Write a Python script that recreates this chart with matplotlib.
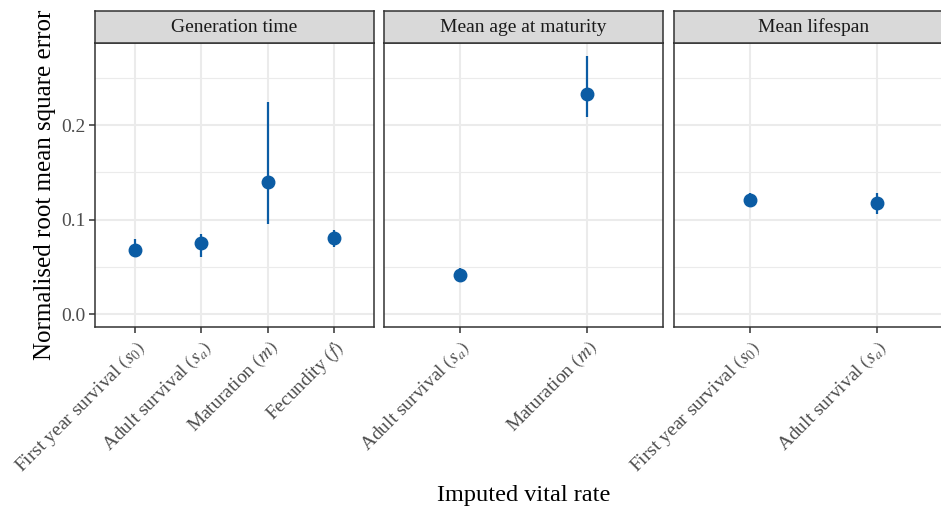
import numpy as np
import matplotlib
matplotlib.use("Agg")
import matplotlib.pyplot as plt

plt.rcParams['font.family'] = ['Liberation Serif', 'DejaVu Serif']
plt.rcParams['mathtext.fontset'] = 'stix'

# datos por panel (valor central, limite inferior, limite superior)
panel_titles = ['Generation time', 'Mean age at maturity', 'Mean lifespan']

gen_labels = [r'First year survival $\left(s_0\right)$', r'Adult survival $\left(s_a\right)$',
              r'Maturation $\left(m\right)$', r'Fecundity $\left(f\right)$']
gen_mid = [0.068, 0.075, 0.140, 0.080]
gen_low = [0.062, 0.060, 0.095, 0.071]
gen_high = [0.079, 0.085, 0.224, 0.089]

mat_labels = [r'Adult survival $\left(s_a\right)$', r'Maturation $\left(m\right)$']
mat_mid = [0.041, 0.233]
mat_low = [0.036, 0.209]
mat_high = [0.049, 0.273]

life_labels = [r'First year survival $\left(s_0\right)$', r'Adult survival $\left(s_a\right)$']
life_mid = [0.121, 0.118]
life_low = [0.115, 0.106]
life_high = [0.128, 0.128]

paneles = [
    (gen_labels, gen_mid, gen_low, gen_high),
    (mat_labels, mat_mid, mat_low, mat_high),
    (life_labels, life_mid, life_low, life_high),
]

W, H = 941, 508
fig = plt.figure(figsize=(W / 100, H / 100), dpi=100)

color_pt = '#0b5ca4'
borde = '#333333'
grid_c = '#ebebeb'
lefts = [95, 384, 674]
pw = 279
top, bottom = 43, 327
strip_top = 11

ymin, ymax = -0.0137, 0.2868

for i, (labels, mid, low, high) in enumerate(paneles):
    x0 = lefts[i]
    ax = fig.add_axes([x0 / W, 1 - bottom / H, pw / W, (bottom - top) / H])
    n = len(labels)
    xs = np.arange(n)
    ax.set_xlim(-0.6, n - 1 + 0.6)
    ax.set_ylim(ymin, ymax)

    # rejilla
    for yv in [0.05, 0.15, 0.25]:
        ax.axhline(yv, color=grid_c, lw=0.8, zorder=0)
    for yv in [0.0, 0.1, 0.2]:
        ax.axhline(yv, color=grid_c, lw=1.5, zorder=0)
    for xv in xs:
        ax.axvline(xv, color=grid_c, lw=1.5, zorder=0)

    ax.vlines(xs, low, high, color=color_pt, lw=1.6, zorder=2)
    ax.plot(xs, mid, 'o', color=color_pt, ms=9, zorder=3)

    ax.set_xticks(xs)
    ax.set_xticklabels(labels, rotation=45, ha='right', va='top',
                       rotation_mode='anchor', fontsize=14, color='#4d4d4d')
    ax.set_yticks([0.0, 0.1, 0.2])
    if i == 0:
        ax.set_yticklabels(['0.0', '0.1', '0.2'], fontsize=14, color='#4d4d4d')
    else:
        ax.tick_params(axis='y', left=False, labelleft=False)
    ax.tick_params(axis='both', length=4, width=1.1, color=borde, pad=3)
    for sp in ax.spines.values():
        sp.set_color(borde)
        sp.set_linewidth(1.1)

    # cabecera del panel
    sax = fig.add_axes([x0 / W, 1 - top / H, pw / W, (top - strip_top) / H])
    sax.set_facecolor('#d9d9d9')
    sax.set_xticks([])
    sax.set_yticks([])
    for sp in sax.spines.values():
        sp.set_color(borde)
        sp.set_linewidth(1.1)
    sax.text(0.5, 0.5, panel_titles[i], ha='center', va='center',
             fontsize=14, color='#1a1a1a', transform=sax.transAxes)

fig.text(45 / W, 1 - 185 / H, 'Normalised root mean square error',
         rotation=90, ha='center', va='center', fontsize=18)
fig.text(524 / W, 1 - 495 / H, 'Imputed vital rate',
         ha='center', va='center', fontsize=17.5)

fig.savefig('out.png', dpi=100)
